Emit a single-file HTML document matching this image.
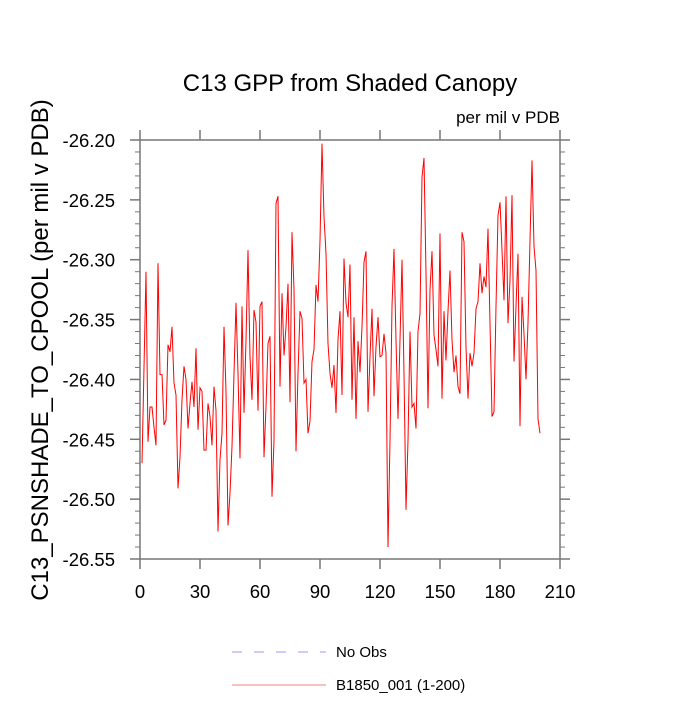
<!DOCTYPE html>
<html><head><meta charset="utf-8"><style>
body{margin:0;background:#fff}
svg text{font-family:"Liberation Sans",Arial,sans-serif;fill:#000}
</style></head><body>
<svg id="chart" width="700" height="700" viewBox="0 0 700 700" xmlns="http://www.w3.org/2000/svg">
<text x="350" y="91" font-size="24" text-anchor="middle">C13 GPP from Shaded Canopy</text>
<text x="560" y="123" font-size="17" text-anchor="end">per mil v PDB</text>
<text transform="translate(48,350) rotate(-90)" font-size="24" text-anchor="middle">C13_PSNSHADE_TO_CPOOL  (per mil v PDB)</text>
<g id="axes"></g>
<g id="series"></g>
<g>
<line x1="232" y1="652" x2="326" y2="652" stroke="#9999ff" stroke-width="1" stroke-dasharray="10,12"/>
<text x="336" y="657" font-size="15">No Obs</text>
<line x1="232" y1="685" x2="326" y2="685" stroke="#f08080" stroke-width="1"/>
<text x="336" y="690" font-size="15">B1850_001 (1-200)</text>
</g>
</svg>
<script>
const xTicks=[0,30,60,90,120,150,180,210];
const yTicks=[-26.20,-26.25,-26.30,-26.35,-26.40,-26.45,-26.50,-26.55];
const years=Array.from({length:200},(_,i)=>i+1);
const values=[-26.470,-26.390,-26.310,-26.452,-26.423,-26.423,-26.440,-26.455,-26.303,-26.396,
-26.396,-26.438,-26.434,-26.371,-26.377,-26.356,-26.403,-26.413,-26.491,-26.465,
-26.417,-26.389,-26.400,-26.441,-26.420,-26.402,-26.423,-26.374,-26.442,-26.407,
-26.410,-26.459,-26.459,-26.420,-26.431,-26.455,-26.406,-26.426,-26.527,-26.467,
-26.445,-26.356,-26.410,-26.522,-26.495,-26.456,-26.395,-26.336,-26.395,-26.466,
-26.339,-26.428,-26.367,-26.292,-26.381,-26.417,-26.342,-26.352,-26.426,-26.339,
-26.335,-26.465,-26.423,-26.370,-26.364,-26.498,-26.451,-26.253,-26.247,-26.406,
-26.328,-26.380,-26.356,-26.320,-26.419,-26.277,-26.325,-26.460,-26.395,-26.343,
-26.349,-26.403,-26.400,-26.445,-26.435,-26.385,-26.375,-26.321,-26.335,-26.284,
-26.203,-26.264,-26.295,-26.370,-26.395,-26.407,-26.388,-26.428,-26.367,-26.343,
-26.413,-26.299,-26.336,-26.348,-26.304,-26.417,-26.348,-26.433,-26.368,-26.394,
-26.356,-26.302,-26.293,-26.427,-26.381,-26.341,-26.414,-26.373,-26.348,-26.381,
-26.380,-26.362,-26.378,-26.540,-26.451,-26.339,-26.291,-26.367,-26.433,-26.367,
-26.300,-26.395,-26.509,-26.451,-26.360,-26.423,-26.420,-26.441,-26.360,-26.345,
-26.231,-26.215,-26.311,-26.424,-26.325,-26.293,-26.363,-26.375,-26.389,-26.278,
-26.416,-26.343,-26.384,-26.343,-26.309,-26.367,-26.394,-26.380,-26.406,-26.412,
-26.277,-26.285,-26.373,-26.416,-26.378,-26.389,-26.378,-26.341,-26.335,-26.303,
-26.328,-26.314,-26.323,-26.274,-26.353,-26.431,-26.427,-26.339,-26.263,-26.252,
-26.292,-26.334,-26.247,-26.353,-26.317,-26.246,-26.385,-26.339,-26.295,-26.439,
-26.331,-26.362,-26.400,-26.353,-26.284,-26.217,-26.289,-26.309,-26.433,-26.445];
const L=140,R=560,T=140,B=559,xMin=0,xMax=210,yMin=-26.55,yMax=-26.20;
const sx=v=>L+(v-xMin)/(xMax-xMin)*(R-L);
const sy=v=>B-(v-yMin)/(yMax-yMin)*(B-T);
const NS="http://www.w3.org/2000/svg";
function mk(tag,attrs,parent){const e=document.createElementNS(NS,tag);for(const k in attrs)e.setAttribute(k,attrs[k]);parent.appendChild(e);return e;}
const ax=document.getElementById('axes');
const frame=mk('rect',{x:L,y:T,width:R-L,height:B-T,fill:'none',stroke:'#777','stroke-width':1.5},ax);


xTicks.forEach(t=>{
  const x=sx(t);
  const a=mk('line',{x1:x,y1:B,x2:x,y2:B+10,stroke:'#777','stroke-width':1.5},ax);
  
  
  const b=mk('line',{x1:x,y1:T,x2:x,y2:T-10,stroke:'#777','stroke-width':1.5},ax);
  
  
  const lb=mk('text',{x:x,y:B+39,'font-size':18.5,'text-anchor':'middle'},ax);
  lb.textContent=String(t);
  
  
});
yTicks.forEach(t=>{
  const y=sy(t);
  const a=mk('line',{x1:L,y1:y,x2:L-10,y2:y,stroke:'#777','stroke-width':1.5},ax);
  
  
  const b=mk('line',{x1:R,y1:y,x2:R+10,y2:y,stroke:'#777','stroke-width':1.5},ax);
  
  
  const lb=mk('text',{x:L-25,y:y+7,'font-size':18.5,'text-anchor':'end'},ax);
  lb.textContent=t.toFixed(2);
  
  
});
for(let i=1;i<35;i++){
  if(i%5===0)continue;
  const y=sy(yMin+i*0.01);
  const a=mk('line',{x1:L,y1:y,x2:L-5,y2:y,stroke:'#777','stroke-width':1},ax);
  
  
  const b=mk('line',{x1:R,y1:y,x2:R+5,y2:y,stroke:'#777','stroke-width':1},ax);
  
  
}
const sg=document.getElementById('series');
const pts=values.map((v,i)=>sx(years[i]).toFixed(1)+','+sy(v).toFixed(1)).join(' ');
const pl=mk('polyline',{points:pts,fill:'none',stroke:'#ff0000','stroke-width':1},sg);


</script>
</body></html>
